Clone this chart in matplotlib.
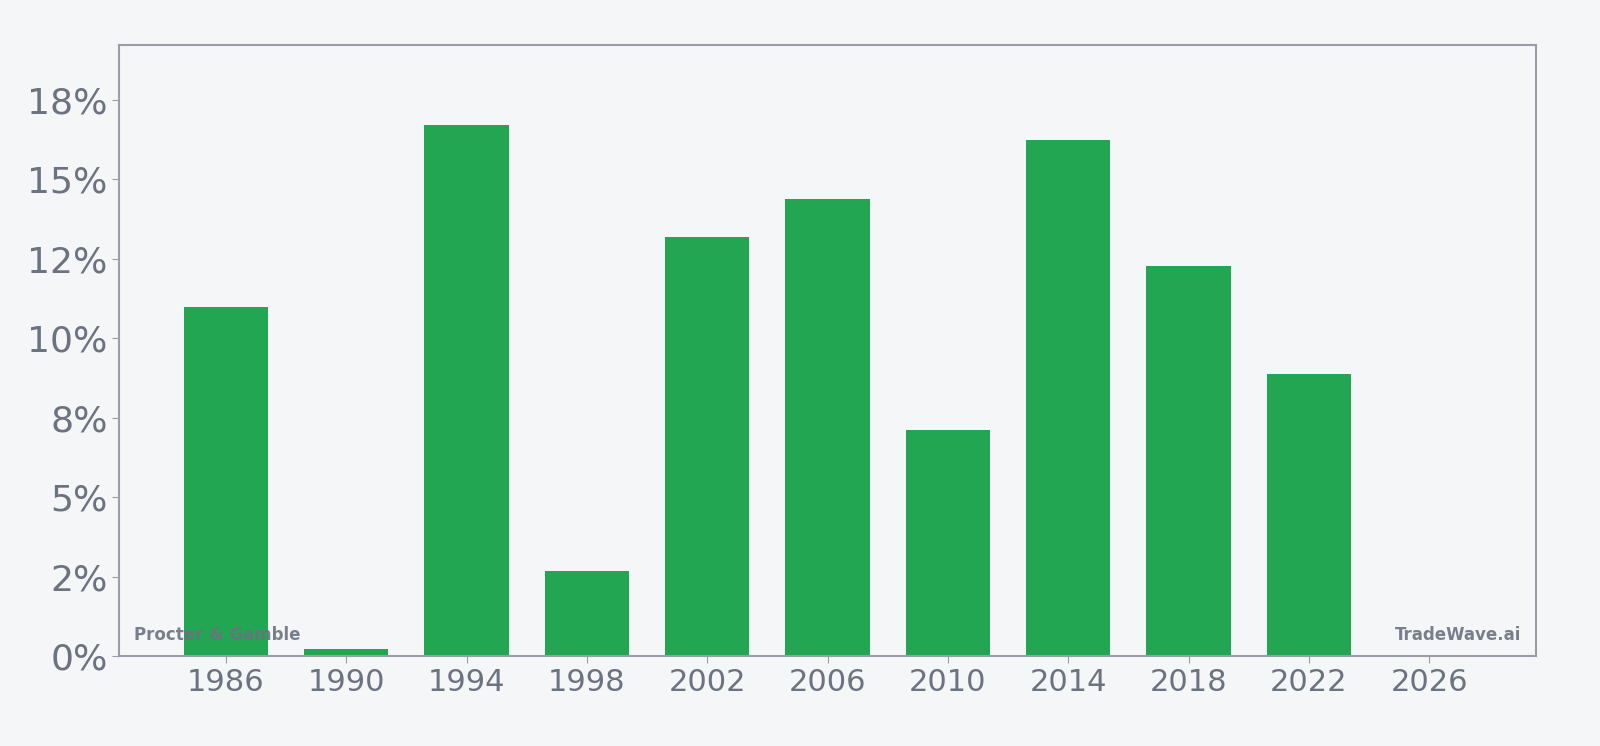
import matplotlib
matplotlib.use("Agg")
import matplotlib.pyplot as plt
from matplotlib.ticker import MultipleLocator, FuncFormatter

years = [1986, 1990, 1994, 1998, 2002, 2006, 2010, 2014, 2018, 2022, 2026]
values = [10.98, 0.22, 16.72, 2.67, 13.17, 14.39, 7.10, 16.25, 12.27, 8.86, 0.0]
company = "Procter & Gamble"
source = "TradeWave.ai"

bg = "#f5f6f8"
bar_color = "#22a652"
text_color = "#6b7280"
spine_color = "#9a9ca8"

fig = plt.figure(figsize=(16, 7.46), dpi=100, facecolor=bg)
ax = fig.add_axes([119.4/1600, 1 - 656/746, (1535.7-119.4)/1600, (656-44.9)/746])
ax.set_facecolor(bg)
ax.bar(years, values, width=2.8, color=bar_color, zorder=2)
ax.set_ylim(0, max(values) * 1.15)
ax.yaxis.set_major_locator(MultipleLocator(2.5))
ax.yaxis.set_major_formatter(FuncFormatter(lambda v, p: f"{v:.0f}%"))
ax.set_xticks(years)
ax.tick_params(axis="y", labelsize=26, colors=spine_color, labelcolor=text_color, length=5)
ax.tick_params(axis="x", labelsize=22, colors=spine_color, labelcolor=text_color, length=5)
for s in ax.spines.values():
    s.set_color(spine_color)
    s.set_linewidth(1.5)

ax.text(0.01, 0.02, company, transform=ax.transAxes, fontsize=12, fontweight="bold",
        color=text_color, alpha=0.9, ha="left", va="bottom", zorder=3)
ax.text(0.99, 0.02, source, transform=ax.transAxes, fontsize=12, fontweight="bold",
        color=text_color, alpha=0.9, ha="right", va="bottom", zorder=3)

fig.savefig("out.png", dpi=100, facecolor=bg)
